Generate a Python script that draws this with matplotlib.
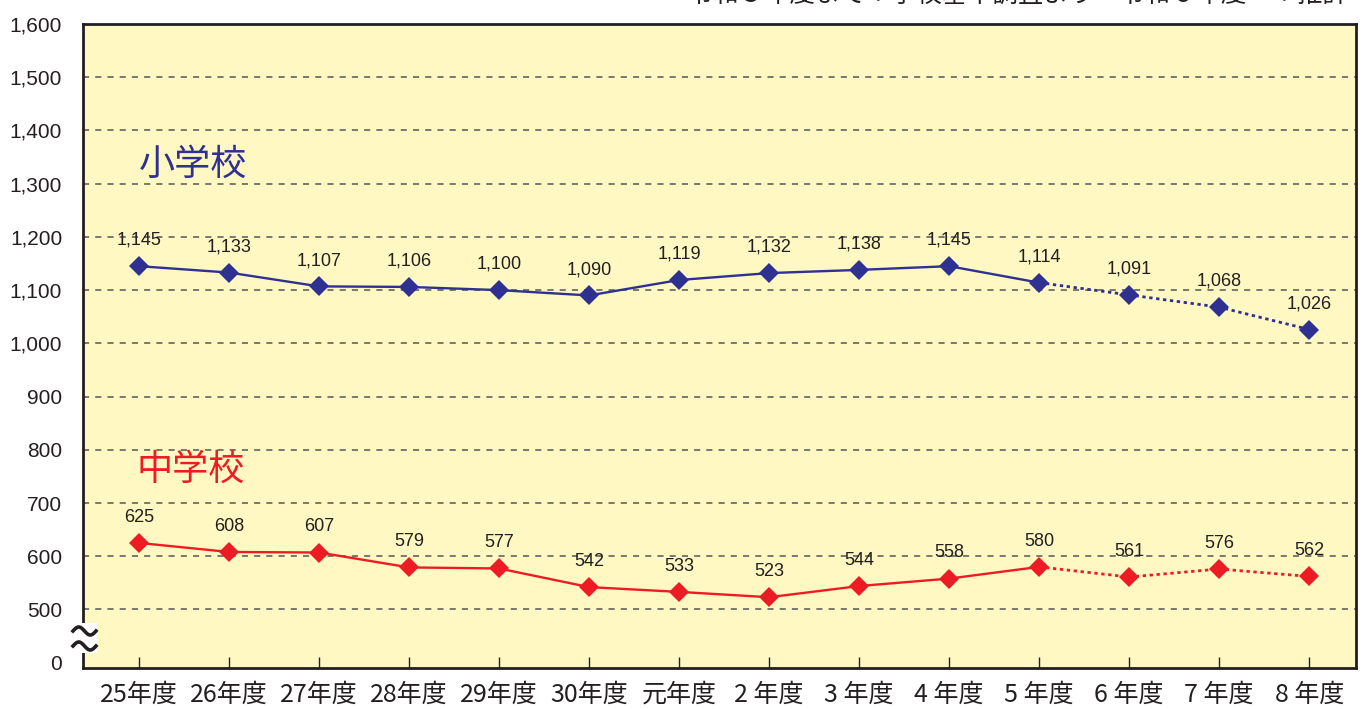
import numpy as np
import matplotlib
matplotlib.use("Agg")
import matplotlib.pyplot as plt
from matplotlib.lines import Line2D
from matplotlib.patches import Rectangle

# ---- data ----
categories = ["25年度", "26年度", "27年度", "28年度", "29年度", "30年度", "元年度",
              "2 年度", "3 年度", "4 年度", "5 年度", "6 年度", "7 年度", "8 年度"]
elementary = [1145, 1133, 1107, 1106, 1100, 1090, 1119, 1132, 1138, 1145, 1114, 1091, 1068, 1026]
junior = [625, 608, 607, 579, 577, 542, 533, 523, 544, 558, 580, 561, 576, 562]
n_actual = 11  # 25年度 .. 5年度 are actual values, the rest are estimates
ytick_values = [400, 500, 600, 700, 800, 900, 1000, 1100, 1200, 1300, 1400, 1500, 1600]
ytick_labels = ["0", "500", "600", "700", "800", "900", "1,000", "1,100", "1,200",
                "1,300", "1,400", "1,500", "1,600"]
title_text = "令和５年度まで：学校基本調査より　令和６年度～：推計"
series_names = ["小学校", "中学校"]

NAVY = "#2E3192"
RED = "#ED1C24"
BG = "#FFF8C2"

cjk = ["Noto Sans CJK JP", "DejaVu Sans"]
narrow = ["Liberation Sans Narrow", "Liberation Sans", "Noto Sans CJK JP", "DejaVu Sans"]
regular = ["Liberation Sans", "Noto Sans CJK JP", "DejaVu Sans"]
plt.rcParams["font.family"] = cjk

W, H = 1364, 709
fig = plt.figure(figsize=(W / 100, H / 100), dpi=100)
fig.patch.set_facecolor("white")
ax = fig.add_axes([83 / W, 1 - 668 / H, (1356 - 83) / W, (668 - 24) / H])
ax.set_facecolor(BG)

x = np.arange(len(categories))
ax.set_xlim(-0.622, 13.52)
ax.set_ylim(390, 1600)

# grid lines
for v in ytick_values[1:-1]:
    ax.axhline(v, color="#555555", lw=1.1, ls=(0, (4, 4)), zorder=1)

def draw_series(vals, color):
    ax.plot(x[:n_actual], vals[:n_actual], color=color, lw=1.7, zorder=3)
    ax.plot(x[n_actual - 1:], vals[n_actual - 1:], color=color, lw=2.0,
            ls=(0, (1.2, 1.3)), zorder=3)
    ax.plot(x, vals, ls="none", marker="D", ms=10, mfc=color, mec=color, mew=0, zorder=4)
    for xi, v in zip(x, vals):
        ax.annotate(f"{v:,}", (xi, v), xytext=(0, 12.5), textcoords="offset points",
                    ha="center", va="bottom", fontsize=13, family=narrow, color="#231F20",
                    zorder=5)

draw_series(elementary, NAVY)
draw_series(junior, RED)

ax.text(0.6, 1335, series_names[0], color=NAVY, fontsize=26, ha="center", va="center",
        family=cjk)
ax.text(0.57, 762, series_names[1], color=RED, fontsize=26, ha="center", va="center",
        family=cjk)

# ticks
ax.set_yticks(ytick_values)
ax.set_yticklabels(ytick_labels, fontsize=15, family=regular, color="#231F20")
ax.tick_params(axis="y", length=0, pad=15)
ax.set_xticks(x)
ax.set_xticklabels(categories, fontsize=18, family=cjk, color="#231F20")
ax.tick_params(axis="x", direction="in", length=8, width=1.0, color="#231F20", pad=10)

for s in ax.spines.values():
    s.set_color("#231F20")
    s.set_linewidth(2.0)

# axis break mark on left spine
fig.patches.append(Rectangle((72 / W, 1 - 653 / H), 25 / W, 30 / H,
                             transform=fig.transFigure, facecolor="white",
                             edgecolor="none", zorder=10))
tt = np.linspace(0, 1, 40)
for yc in (631, 646):
    xs = (73 + 23 * tt) / W
    ys = 1 - (yc - 4 * np.sin(2 * np.pi * tt)) / H
    fig.lines.append(Line2D(xs, ys, transform=fig.transFigure, color="#231F20",
                            lw=2.6, zorder=11))

# partially visible header text
fig.text(688 / W, 1 - 2 / H, title_text, fontsize=18.3, family=cjk, ha="left",
         va="baseline", color="#231F20")

fig.savefig("out.png", dpi=100, facecolor="white")
